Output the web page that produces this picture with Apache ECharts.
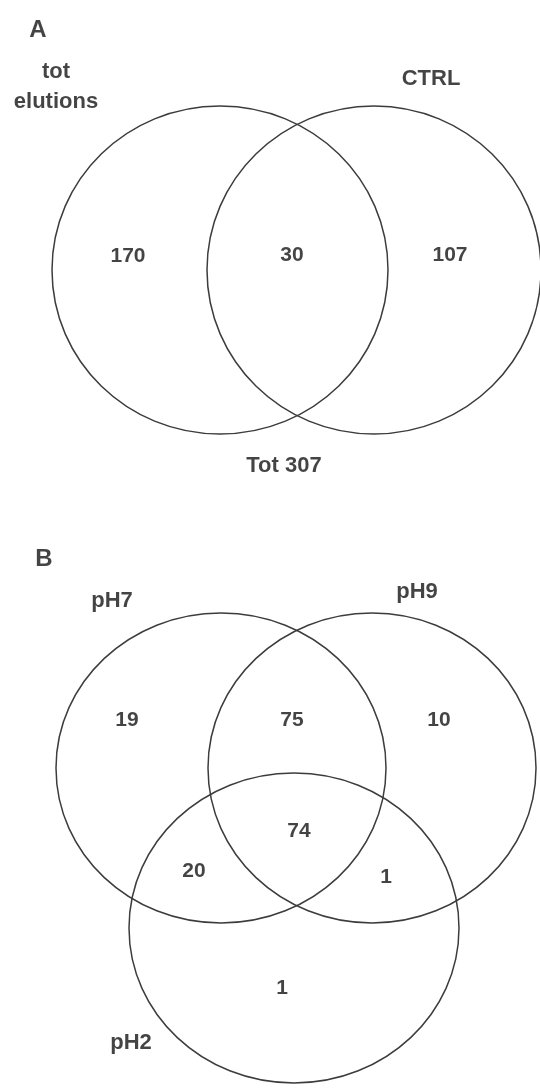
<!DOCTYPE html>
<html>
<head>
<meta charset="utf-8">
<script src="https://cdn.jsdelivr.net/npm/echarts@6/dist/echarts.min.js"></script>
<style>
  html, body { margin: 0; padding: 0; background: #fff; }
  #main { width: 540px; height: 1091px; }
</style>
</head>
<body>
<div id="main"></div>
<script>
// panel A data
var setsA = ["tot\nelutions", "CTRL"];
var countsA = [170, 30, 107]; // tot only, both, CTRL only
var totalA = 307;

// panel B data
var setsB = ["pH7", "pH9", "pH2"];
var countsB = [19, 75, 10, 74, 20, 1, 1]; // pH7, pH7+pH9, pH9, all, pH7+pH2, pH9+pH2, pH2

// layout (pixel coords of the page, y down)
var circlesA = [[220, 270, 168, 164], [374, 270, 167, 164]];
var circlesB = [[221, 768, 165, 155], [372, 768, 164, 155], [294, 928, 165, 155]];
var setPosA = [[56, 87], [431, 79]];
var countPosA = [[128, 256], [292, 255], [450, 255]];
var totalPosA = [284, 466];
var setPosB = [[112, 601], [417, 592], [131, 1043]];
var countPosB = [[127, 720], [292, 720], [439, 720], [299, 831], [194, 871], [386, 877], [282, 988]];

var font = "'Liberation Sans', Arial, Helvetica, sans-serif";

function textPoints(pos, texts, size) {
  return pos.map(function (p, i) {
    return { value: p, name: String(texts[i]), label: { fontSize: size } };
  });
}

function textSeries(data) {
  return {
    type: "scatter",
    symbolSize: 0,
    silent: true,
    data: data,
    label: {
      show: true,
      position: "inside",
      formatter: "{b}",
      color: "#151515",
      fontWeight: "bold",
      fontFamily: font,
      lineHeight: 30,
    },
  };
}

var ellipses = circlesA.concat(circlesB);

var option = {
  animation: false,
  backgroundColor: "#fff",
  grid: { left: 0, right: 0, top: 0, bottom: 0 },
  xAxis: { type: "value", min: 0, max: 540, show: false },
  yAxis: { type: "value", min: 0, max: 1091, inverse: true, show: false },
  series: [
    {
      type: "custom",
      silent: true,
      data: ellipses,
      renderItem: function (params, api) {
        var c = api.coord([api.value(0), api.value(1)]);
        var s = api.size([api.value(2), api.value(3)]);
        return {
          type: "ellipse",
          shape: { cx: c[0], cy: c[1], rx: s[0], ry: s[1] },
          style: { fill: "none", stroke: "#3c3c3c", lineWidth: 1.5 },
        };
      },
    },
    textSeries(
      textPoints([[38, 30], [44, 559]], ["A", "B"], 24)
        .concat(textPoints(setPosA, setsA, 22))
        .concat(textPoints(countPosA, countsA, 21))
        .concat(textPoints([totalPosA], ["Tot " + totalA], 22))
        .concat(textPoints(setPosB, setsB, 22))
        .concat(textPoints(countPosB, countsB, 21))
    ),
  ],
};

var chartDom = document.getElementById("main");
var myChart = echarts.init(chartDom);
option && myChart.setOption(option);
</script>
</body>
</html>
